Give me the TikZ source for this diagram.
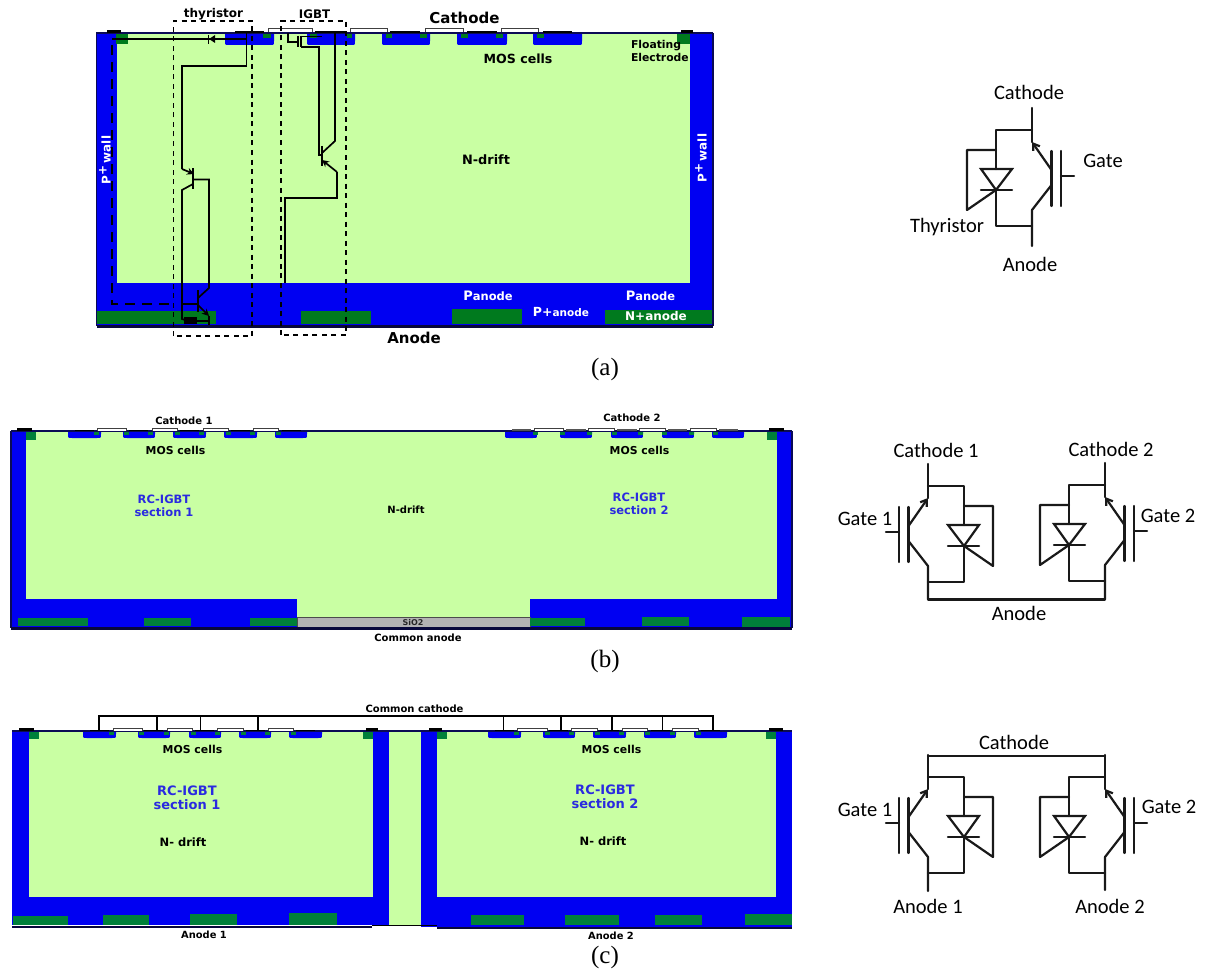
\documentclass[tikz,border=0pt]{standalone}
\usepackage{fontspec}
\setmainfont{Liberation Serif}
\newfontfamily\dvfont{DejaVu Sans}[BoldFont={DejaVu Sans Bold}]
\newfontfamily\cbfont{Carlito}
\usetikzlibrary{arrows.meta}
\definecolor{drift}{HTML}{C9FFA3}
\definecolor{wall}{HTML}{0000F2}
\definecolor{emit}{HTML}{00803A}
\definecolor{emita}{HTML}{007A1E}
\definecolor{edge}{HTML}{0B0B55}
\definecolor{rcblue}{HTML}{2A2AE0}
\definecolor{gateox}{HTML}{555555}
\definecolor{oxide}{HTML}{B3B3B3}
\newcommand{\dfs}[1]{\dvfont\bfseries\fontsize{#1}{#1}\selectfont}
\newcommand{\cfs}{\cbfont\fontsize{20.5}{24}\selectfont}
\newcommand{\wellrow}[3]{\foreach \a/\b in {#3}{\fill[wall] (\a,#1) -- (\a,#2-4) .. controls (\a,#2) .. (\a+4,#2) -- (\b-4,#2) .. controls (\b,#2) .. (\b,#2-4) -- (\b,#1) -- cycle;}}
\newcommand{\boxrow}[4]{\foreach \a/\b in {#4}{\fill[#1] (\a,#2) rectangle (\b,#3);}}
\newcommand{\gaterow}[3]{\foreach \a/\b in {#3}{\draw[gatebox] (\a,#2) -- (\a,#1) -- (\b,#1) -- (\b,#2);}}
% one RC-IGBT symbol: xscale sign, x of rail, y top, y end
\newcommand{\rcsym}[4]{%
 \begin{scope}[shift={(#2,0)},xscale=#1]
 \draw[ckt] (0,#3) -- (0,#3+34);
 \draw[ckt,-{Straight Barb[length=6pt,width=8pt]}] (-19.5,#3+62) -- (0,#3+34);
 \draw[ckt] (-19.5,#3+43) -- (-19.5,#3+98);
 \draw[ckt] (-29,#3+43) -- (-29,#3+98);
 \draw[ckt] (-29,#3+68) -- (-42,#3+68);
 \draw[ckt] (-19.5,#3+77) -- (0,#3+102) -- (0,#4);
 \draw[ckt] (0,#3+22) -- (36,#3+22) -- (36,#3+61);
 \draw[ckt,line join=miter] (20,#3+61) -- (51,#3+61) -- (36,#3+82) -- cycle;
 \draw[ckt] (20,#3+82) -- (51,#3+82);
 \draw[ckt] (36,#3+82) -- (36,#3+118) -- (0,#3+118);
 \draw[ckt] (36,#3+42) -- (65,#3+42) -- (65,#3+102) -- (36,#3+82);
 \end{scope}}
\tikzset{
 lbl/.style={inner sep=0pt,outer sep=0pt,align=center,font=\dfs{#1}},
 ckttext/.style={inner sep=0pt,font=\cfs},
 captext/.style={inner sep=0pt,font=\fontsize{25}{28}\selectfont},
 ckt/.style={line width=2.2pt,black!90,line cap=round,line join=round},
 wire/.style={line width=1.7pt,black,line join=miter},
 dashbox/.style={line width=1.5pt,black,dash pattern=on 5pt off 4.5pt},
 gatebox/.style={line width=0.9pt,black!75,fill=white},
 topline/.style={line width=1.2pt,edge},
 bottomline/.style={line width=2.6pt,edge!70!black},
}
\begin{document}
\begin{tikzpicture}[x=1pt,y=-1pt]
\useasboundingbox (0,0) rectangle (1207,971);
\fill[white] (0,0) rectangle (1207,971);

%%%%%%%%%%%%% panel (a)
\fill[wall] (96,33) rectangle (713,325);
\fill[drift] (117,33) rectangle (690,283);
\fill[emita] (97,311) rectangle (216,324);
\fill[emita] (301,311) rectangle (371,324);
\fill[emita] (452,309) rectangle (522,324);
\fill[emita] (605,310) rectangle (712,324);
\wellrow{33}{45}{225/274,307/355,382/430,457/507,533/582}
\boxrow{emita}{34}{38}{263/271,310/317,347/352,386/392,420/427,461/468,496/503,537/544}
\fill[emita] (116,34) rectangle (128,44);
\fill[emita] (677,34) rectangle (690,44);
\draw[topline] (96,33) -- (713,33);
\draw[line width=1.3pt,edge] (96.5,33) -- (96.5,326);
\draw[line width=1.3pt,edge] (713,33) -- (713,326);
\draw[bottomline] (97,326.5) -- (713,326.5);
\gaterow{28.5}{32.5}{268/312,350/387,425/463,501/538}
\boxrow{black}{31}{33}{235/264,315/345,390/420,467/497,543/572}
\boxrow{black}{30}{33}{107/121,681/693}
% dashed boxes
\draw[dashbox] (173.5,336) -- (173.5,21) -- (252,21) -- (252,336) -- cycle;
\draw[dashbox] (281,335) -- (281,21) -- (346,21) -- (346,335) -- cycle;
\draw[line width=1.5pt,dash pattern=on 10pt off 7pt] (112,45) -- (112,304) -- (172,304);
% thyristor equivalent circuit
\draw[wire] (112,39) -- (246.5,39);
\draw[wire] (246.5,33) -- (246.5,66) -- (182,66) -- (182,169);
\draw[wire,-{Stealth[length=7pt,width=7pt]}] (182,169) -- (194,174);
\draw[line width=1.9pt] (193,168) -- (193,189);
\draw[wire] (193,184) -- (182,190) -- (182,319) -- (185,320);
\draw[wire] (193,179.5) -- (209,179.5) -- (209,288) -- (198,298);
\draw[line width=1.9pt] (198,290) -- (198,312);
\draw[wire] (182,304) -- (198,304);
\draw[wire,-{Stealth[length=7pt,width=7pt]}] (198,305) -- (209,316);
\draw[wire] (209,316) -- (209,325);
\fill[black] (184,317) rectangle (197,324);
\draw[wire] (197,321) -- (209,321);
\fill[black] (215,35) -- (215,43) -- (209,39) -- cycle;
\draw[line width=1.2pt] (208.5,35) -- (208.5,44);
% IGBT equivalent circuit
\draw[wire,line width=1.2pt] (288,33) -- (288,42) -- (297,42);
\draw[wire] (298,36) -- (298,47);
\draw[wire] (301,36) -- (301,47);
\draw[wire] (301,36.5) -- (322,36.5);
\draw[wire] (301,47) -- (319,47) -- (319,155) -- (322,155);
\draw[line width=1.9pt] (322,146) -- (322,166);
\draw[wire] (322,153) -- (335,141) -- (335,33);
\draw[wire,-{Stealth[length=7pt,width=7pt]}] (337,172) -- (322,160);
\draw[wire] (337,172) -- (337,198) -- (285,198) -- (285,283);
% labels
\node[lbl=12] (ta1) at (213.5,14) {thyristor};
\node[lbl=11.8] (ta2) at (314.5,14) {IGBT};
\node[lbl=15] (ta3) at (464.5,18) {Cathode};
\node[lbl=12.6] (ta4) at (518,59) {MOS cells};
\node[lbl=10.8,align=left,anchor=north west] (ta5) at (631,40) {Floating\\[2.2pt]Electrode};
\node[lbl=12.9] (ta6) at (486,160) {N-drift};
\node[lbl=15] (ta7) at (414,338) {Anode};
\node[lbl=12,text=white,rotate=90] (ta8) at (105,160) {P\raisebox{4pt}{+}\,wall};
\node[lbl=12,text=white,rotate=90] (ta9) at (701,158) {P\raisebox{4pt}{+}\,wall};
\node[lbl=13,text=white] (ta10) at (488,296) {P{\dfs{11.5}anode}};
\node[lbl=13,text=white] (ta11) at (650.5,296) {P{\dfs{11.5}anode}};
\node[lbl=12.5,text=white] (ta12) at (561,312) {P+{\dfs{10.5}anode}};
\node[lbl=12,text=white] (ta13) at (656,316) {N+anode};
\node[captext] (ca) at (605,369) {(a)};

% circuit (a): gate on the right
\rcsym{-1}{1032}{108}{246}
\node[ckttext] (c1) at (1029,92) {Cathode};
\node[ckttext] (c2) at (1103,161) {Gate};
\node[ckttext] (c3) at (947,227) {Thyristor};
\node[ckttext] (c4) at (1030,264) {Anode};

%%%%%%%%%%%%% panel (b)
\fill[wall] (11,431) rectangle (792,627);
\fill[drift] (26,431) rectangle (777,599);
\fill[drift] (297,599) rectangle (530,618);
\fill[oxide,draw=black!70,line width=0.8pt] (297,617.5) rectangle (530,627.5);
\boxrow{emit}{618}{626}{18/88,144/191,250/297,530/585}
\boxrow{emit}{617}{626}{642/689}
\fill[emit] (742,617) rectangle (790,628);
\wellrow{431}{438}{68/101,123/155,173/206,224/257,275/307,505/537,560/592,611/643,662/694,712/744}
\boxrow{emit}{432}{435}{94/99,124/129,148/153,175/180,199/204,226/231,250/255,276/281,533/538,560/565,587/592,612/617,638/643,662/667,689/694,713/718}
\fill[emit] (26,432) rectangle (36,440);
\fill[emit] (767,432) rectangle (777,440);
\draw[topline] (11,431) -- (792,431);
\draw[line width=1.3pt,edge] (11,431) -- (11,628);
\draw[line width=1.3pt,edge] (792,431) -- (792,628);
\draw[bottomline] (11,628.5) -- (792,628.5);
\gaterow{428}{431}{97/126,152/177,203/228,253/278,534/563,588/614,639/665,690/716}
\boxrow{black}{429.5}{431}{75/94,129/148,180/199,231/250,282/301}
\boxrow{gateox}{428.7}{431}{512/531,566/586,617/637,668/687,719/738}
\boxrow{black}{428}{431}{17/32,769/784}
\node[lbl=10] (tb1) at (184,421) {Cathode 1};
\node[lbl=10] (tb2) at (632,418) {Cathode 2};
\node[lbl=10.9] (tb3) at (175.5,450) {MOS cells};
\node[lbl=10.9] (tb4) at (639.5,450) {MOS cells};
\node[lbl=11.5,text=rcblue] (tb5) at (164,506) {RC-IGBT\\[1.5pt]section 1};
\node[lbl=11.5,text=rcblue] (tb6) at (639,504) {RC-IGBT\\[1.5pt]section 2};
\node[lbl=10] (tb7) at (406,510) {N-drift};
\node[lbl=8,text=black!85] (tb8) at (413,622.5) {SiO2};
\node[lbl=10] (tb9) at (418,638) {Common anode};
\node[captext] (cb) at (605,661) {(b)};

% circuit (b)
\rcsym{1}{928}{464}{599}
\rcsym{-1}{1105}{463}{599}
\draw[ckt] (928,599.5) -- (1105,599.5);
\node[ckttext] (d1) at (936,450) {Cathode 1};
\node[ckttext] (d2) at (1111,449) {Cathode 2};
\node[ckttext] (d3) at (865,519) {Gate 1};
\node[ckttext] (d4) at (1168,516) {Gate 2};
\node[ckttext] (d5) at (1019,613) {Anode};

%%%%%%%%%%%%% panel (c)
\fill[wall] (12,731) rectangle (389,925);
\fill[wall] (421,731) rectangle (792,927);
\fill[drift] (29,731) rectangle (373,897);
\fill[drift] (437,731) rectangle (776,897);
\fill[drift] (389,731) rectangle (421,925);
\fill[emit] (13,916) rectangle (68,925);
\fill[emit] (103,915) rectangle (149,925);
\fill[emit] (190,914) rectangle (237,925);
\fill[emit] (289,913) rectangle (337,925);
\fill[emit] (471,915) rectangle (524,925);
\fill[emit] (565,915) rectangle (619,925);
\fill[emit] (655,915) rectangle (702,925);
\fill[emit] (745,914) rectangle (792,925);
\wellrow{731}{738}{83/116,138/170,189/221,239/271,289/322,488/521,543/575,593/626,644/676,694/727}
\boxrow{emit}{732}{735}{109/114,139/144,164/169,191/196,215/220,241/246,265/270,291/296,514/519,545/550,569/574,595/600,619/624,645/650,670/675,696/701}
\fill[emit] (29,731) rectangle (39,739);
\fill[emit] (363,732) rectangle (373,739);
\fill[emit] (437,732) rectangle (447,739);
\fill[emit] (766,732) rectangle (776,739);
\draw[topline] (12,731) -- (792,731);
\draw[bottomline] (12,927) -- (372,927);
\draw[bottomline] (437,928) -- (792,928);
\draw[line width=1pt,black] (372,925.5) -- (437,925.5);
\gaterow{728}{731}{113/142,167/192,217/243,268/293,517/547,571/597,622/647,672/698}
\boxrow{black}{729.5}{731}{90/109,144/163,195/214,246/265,296/315,495/514,549/568,600/619,651/670,701/720}
\boxrow{black}{728}{731}{19/34,366/378,429/442,769/783}
% common cathode bus
\draw[line width=1.6pt] (99,731) -- (99,716) -- (713,716) -- (713,731);
\foreach \x in {157,200.3,258,503.5,561,612,662.5}{\draw[line width=1.6pt] (\x,716) -- (\x,731);}
\node[lbl=10] (tc1) at (414.5,709) {Common cathode};
\node[lbl=10.9] (tc2) at (192.5,749) {MOS cells};
\node[lbl=10.9] (tc3) at (611.5,749) {MOS cells};
\node[lbl=13,text=rcblue] (tc4) at (187,798) {RC-IGBT\\[1.5pt]section 1};
\node[lbl=13,text=rcblue] (tc5) at (605,797) {RC-IGBT\\[1.5pt]section 2};
\node[lbl=11.5] (tc6) at (183,842) {N- drift};
\node[lbl=11.5] (tc7) at (603,841) {N- drift};
\node[lbl=9.9] (tc8) at (204,935) {Anode 1};
\node[lbl=9.9] (tc9) at (611,936) {Anode 2};
\node[captext] (cc) at (605,957) {(c)};

% circuit (c)
\rcsym{1}{928}{755}{891}
\rcsym{-1}{1105}{755}{890}
\draw[ckt] (928,756) -- (1105,756);
\node[ckttext] (e1) at (1014,742) {Cathode};
\node[ckttext] (e2) at (865,810) {Gate 1};
\node[ckttext] (e3) at (1169,807) {Gate 2};
\node[ckttext] (e4) at (928,906) {Anode 1};
\node[ckttext] (e5) at (1110,906) {Anode 2};
\end{tikzpicture}
\end{document}
